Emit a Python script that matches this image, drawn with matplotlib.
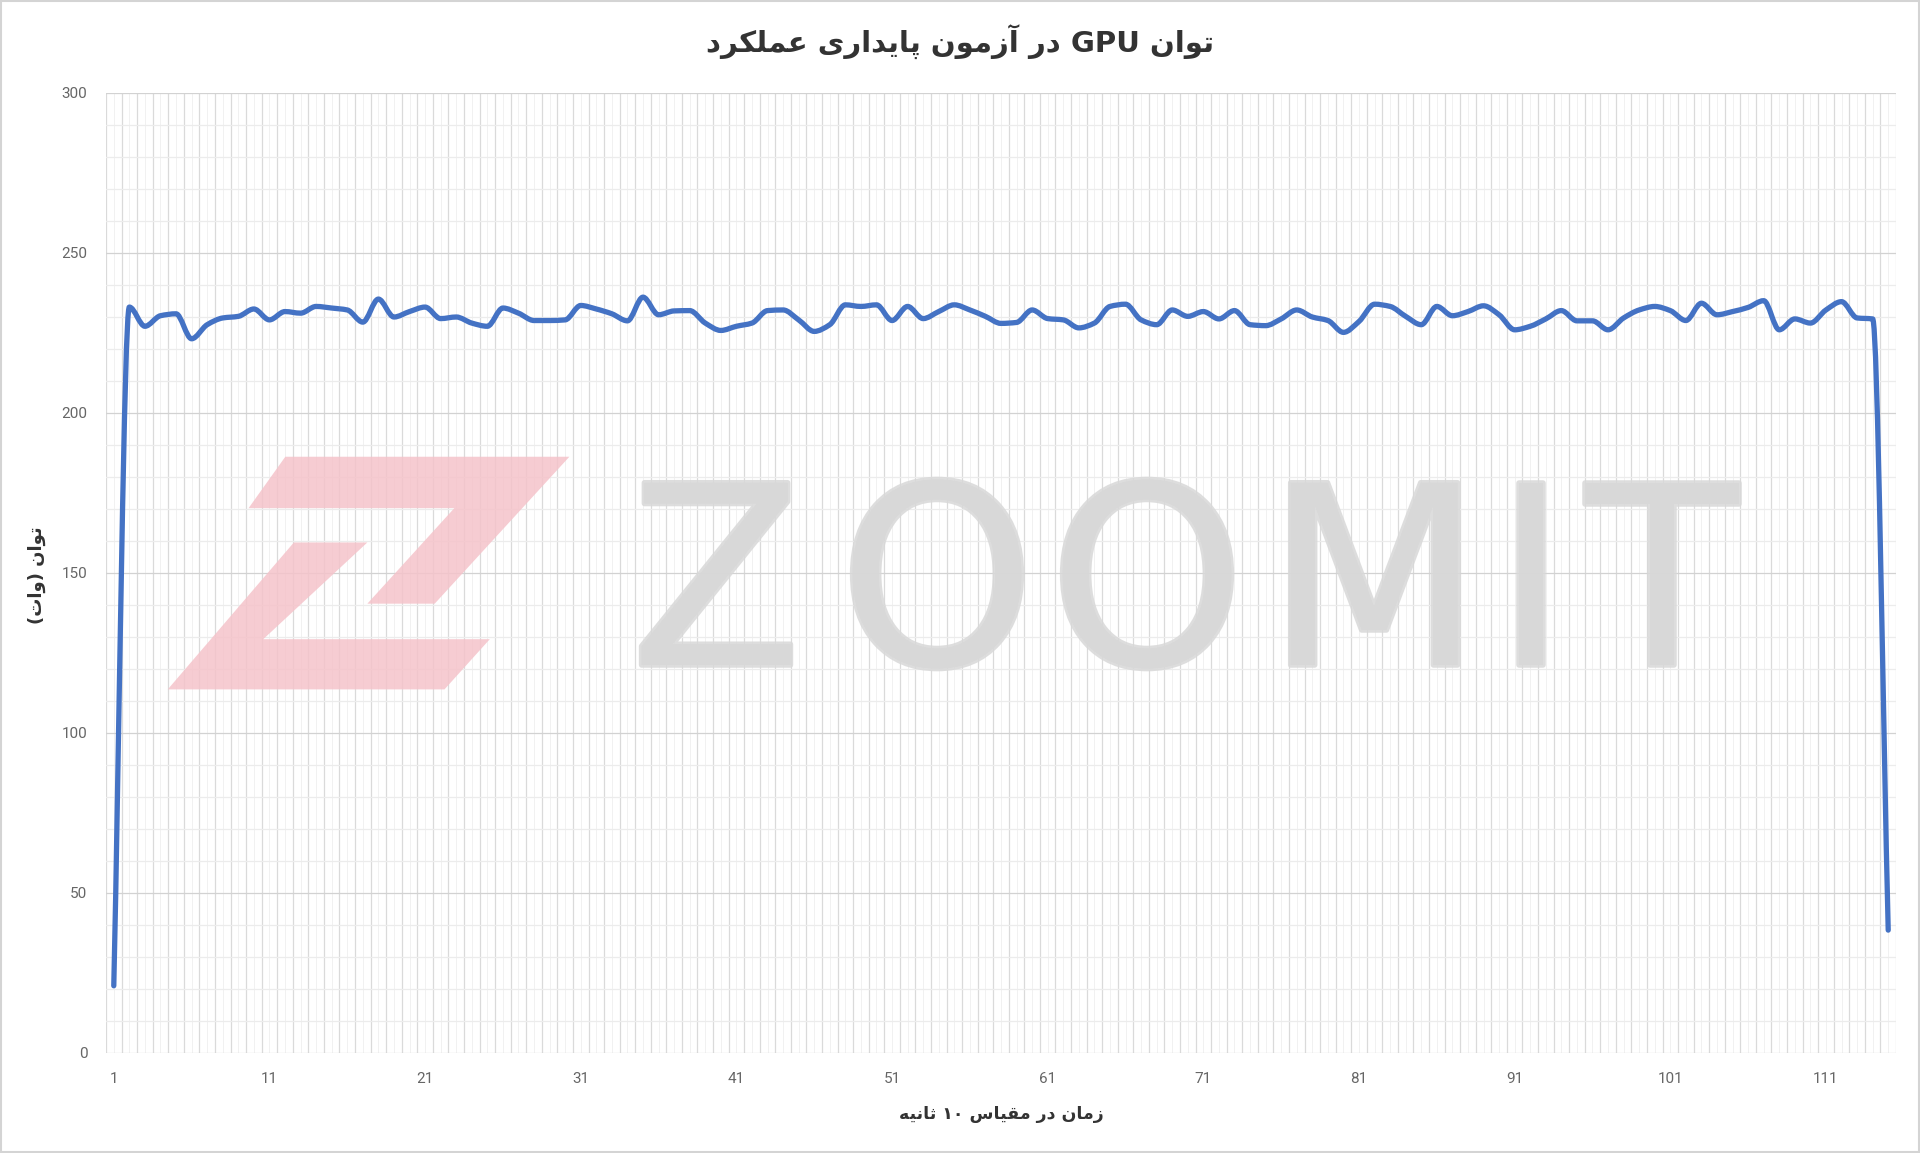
import re

import matplotlib
matplotlib.use("Agg")
import matplotlib.pyplot as plt
import matplotlib.patheffects as pe
import numpy as np
from matplotlib.patches import PathPatch, Polygon, Rectangle
from matplotlib.path import Path

TITLE = "توان GPU در آزمون پایداری عملکرد"
X_LABEL = "زمان در مقیاس ۱۰ ثانیه"
Y_LABEL = "توان (وات)"

time_index = list(range(1, 116))
gpu_power = [
    21.0, 233.1, 227.1, 230.4, 231.0, 223.2, 227.6, 229.7, 230.2, 232.5,
    229.1, 231.7, 231.2, 233.3, 232.8, 232.2, 228.4, 235.6, 230.0, 231.7,
    233.1, 229.5, 230.0, 228.1, 227.1, 232.8, 231.2, 228.9, 228.9, 229.1,
    233.6, 232.5, 231.0, 228.8, 236.2, 230.7, 231.9, 232.0, 228.1, 225.8,
    227.1, 228.1, 232.0, 232.2, 229.1, 225.5, 227.6, 233.8, 233.3, 233.8,
    228.9, 233.3, 229.5, 231.7, 233.8, 232.2, 230.2, 228.0, 228.3, 232.2,
    229.5, 229.1, 226.6, 228.1, 233.3, 234.0, 229.1, 227.6, 232.2, 230.2,
    231.7, 229.4, 232.0, 227.6, 227.3, 229.4, 232.2, 230.0, 228.9, 225.2,
    228.6, 234.0, 233.3, 230.2, 227.6, 233.3, 230.4, 231.7, 233.5, 230.7,
    226.0, 227.1, 229.4, 232.0, 228.8, 228.8, 226.0, 229.7, 232.2, 233.3,
    232.0, 228.9, 234.3, 230.7, 231.7, 233.0, 235.1, 226.0, 229.4, 228.1,
    232.2, 234.8, 229.7, 229.4, 38.4,
]
x_tick_values = list(range(1, 112, 10))
y_tick_values = [0, 50, 100, 150, 200, 250, 300]

# contextual forms: isolated, final, initial, medial
FORMS = {
    "ا": "\uFE8D\uFE8E", "آ": "\uFE81\uFE82",
    "ت": "\uFE95\uFE96\uFE97\uFE98", "ث": "\uFE99\uFE9A\uFE9B\uFE9C",
    "د": "\uFEA9\uFEAA", "ر": "\uFEAD\uFEAE", "ز": "\uFEAF\uFEB0",
    "س": "\uFEB1\uFEB2\uFEB3\uFEB4", "ع": "\uFEC9\uFECA\uFECB\uFECC",
    "ق": "\uFED5\uFED6\uFED7\uFED8", "ل": "\uFEDD\uFEDE\uFEDF\uFEE0",
    "م": "\uFEE1\uFEE2\uFEE3\uFEE4", "ن": "\uFEE5\uFEE6\uFEE7\uFEE8",
    "ه": "\uFEE9\uFEEA\uFEEB\uFEEC", "و": "\uFEED\uFEEE",
    "پ": "\uFB56\uFB57\uFB58\uFB59", "ک": "\uFB8E\uFB8F\uFB90\uFB91",
    "ی": "\uFBFC\uFBFD\uFBFE\uFBFF",
}
MIRROR = str.maketrans("()", ")(")
LTR = r"[A-Za-z0-9\u06F0-\u06F9]"


def shape_persian(text):
    out = []
    for k, ch in enumerate(text):
        if ch not in FORMS:
            out.append(ch)
            continue
        prev = text[k - 1] if k > 0 else ""
        nxt = text[k + 1] if k + 1 < len(text) else ""
        join_prev = prev in FORMS and len(FORMS[prev]) == 4
        join_next = len(FORMS[ch]) == 4 and nxt in FORMS
        forms = FORMS[ch]
        if join_prev and join_next:
            out.append(forms[3])
        elif join_prev:
            out.append(forms[1])
        elif join_next:
            out.append(forms[2])
        else:
            out.append(forms[0])
    shaped = "".join(out)
    runs = re.findall(LTR + "+|[^A-Za-z0-9\u06F0-\u06F9]+", shaped)
    visual = []
    for run in reversed(runs):
        if re.match(LTR, run):
            visual.append(run)
        else:
            visual.append(run[::-1].translate(MIRROR))
    return "".join(visual)


def smooth_path(x, y):
    # monotone cubic (Fritsch-Carlson) drawn as bezier segments
    x = np.asarray(x, float)
    y = np.asarray(y, float)
    h = np.diff(x)
    d = np.diff(y) / h
    m = np.zeros_like(y)
    m[0], m[-1] = d[0], d[-1]
    for i in range(1, len(y) - 1):
        if d[i - 1] * d[i] > 0:
            m[i] = 2 / (1 / d[i - 1] + 1 / d[i])
    verts = [(x[0], y[0])]
    codes = [Path.MOVETO]
    for i in range(len(h)):
        verts += [(x[i] + h[i] / 3, y[i] + m[i] * h[i] / 3),
                  (x[i + 1] - h[i] / 3, y[i + 1] - m[i + 1] * h[i] / 3),
                  (x[i + 1], y[i + 1])]
        codes += [Path.CURVE4] * 3
    return Path(verts, codes)


def draw_chart():
    W, H = 1920, 1153
    fig = plt.figure(figsize=(W / 100, H / 100), dpi=100)
    ax = fig.add_axes([106 / W, 1 - 1053 / H, 1790 / W, 960 / H])

    # watermark
    def fpts(pts):
        return [(x * 1.2245 / W, 1 - y * 1.2245 / H) for x, y in pts]

    logo_a = [(233, 373), (465, 373), (355, 493), (300, 493), (371, 415), (203, 415)]
    logo_b = [(240, 443), (300, 443), (215, 522), (400, 522), (363, 563), (137, 563)]
    for pts in (logo_a, logo_b):
        fig.patches.append(Polygon(fpts(pts), closed=True, transform=fig.transFigure,
                                   facecolor="#f5c3ca", edgecolor="none", alpha=0.85,
                                   zorder=0.5))
    for letter, cx in zip("ZOOMIT", [716, 937, 1147, 1374, 1531, 1662]):
        fig.text(cx / W, 1 - 665 / H, letter, fontsize=180, family="DejaVu Sans",
                 color="#d8d8d8", alpha=0.85, ha="center", va="baseline", zorder=0.5,
                 path_effects=[pe.withStroke(linewidth=4, foreground="#d8d8d8")])

    ax.set_facecolor("none")
    ax.add_patch(PathPatch(smooth_path(time_index, gpu_power), facecolor="none",
                           edgecolor="#4472c4", linewidth=3.8, joinstyle="round",
                           capstyle="round", zorder=3))

    ax.set_xlim(0.5, 115.5)
    ax.set_ylim(0, 300)
    ax.set_xticks(x_tick_values)
    ax.set_xticks(np.arange(0.5, 116, 1), minor=True)
    ax.set_yticks(y_tick_values)
    ax.set_yticks(np.arange(0, 301, 10), minor=True)
    ax.grid(which="minor", axis="x", color="#dadada", linewidth=0.9)
    ax.grid(which="major", axis="y", color="#d2d2d2", linewidth=0.9)
    ax.grid(which="minor", axis="y", color="#ececec", linewidth=0.9)
    ax.vlines(time_index, 0, 300, color="#f1f1f1", linewidth=0.7, zorder=0)
    ax.set_axisbelow(True)
    for s in ax.spines.values():
        s.set_visible(False)

    ax.tick_params(which="both", length=0)
    ax.tick_params(axis="y", pad=13.5, labelsize=11, labelcolor="#666666")
    ax.tick_params(axis="x", pad=14, labelsize=11, labelcolor="#666666")
    for lab in ax.get_xticklabels() + ax.get_yticklabels():
        lab.set_family("Roboto")

    fa = ["DejaVu Sans"]
    fig.text(0.5, 1 - 42 / H, shape_persian(TITLE), family=fa, fontsize=21,
             fontweight="bold", color="#333333", ha="center", va="center")
    fig.text(1001 / W, 1 - 1114 / H, shape_persian(X_LABEL), family=fa, fontsize=12.5,
             fontweight="bold", color="#333333", ha="center", va="center")
    fig.text(37 / W, 1 - 575 / H, shape_persian(Y_LABEL), family=fa, fontsize=13,
             fontweight="bold", color="#333333", ha="center", va="center", rotation=90)

    fig.patches.append(Rectangle((0.0005, 0.0008), 0.999, 0.9985, transform=fig.transFigure,
                                 fill=False, edgecolor="#d4d4d4", linewidth=1.5))

    fig.savefig("out.png", dpi=100)
    plt.close(fig)


if __name__ == "__main__":
    draw_chart()
